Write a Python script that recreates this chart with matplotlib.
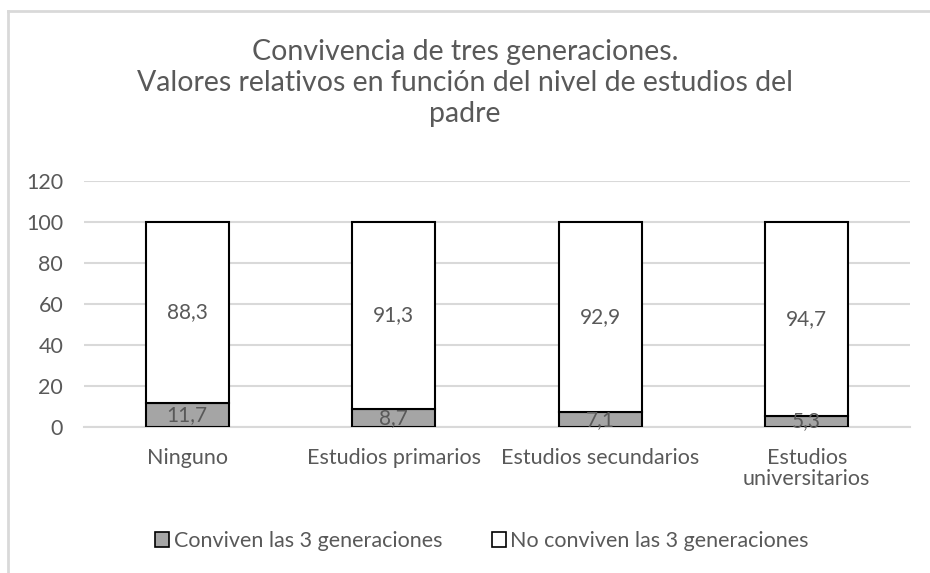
import matplotlib
matplotlib.use("Agg")
import matplotlib.pyplot as plt
from matplotlib.lines import Line2D
import numpy as np

plt.rcParams['font.family'] = ['Lato', 'DejaVu Sans']

# data
categorias = ['Ninguno', 'Estudios primarios', 'Estudios secundarios', 'Estudios\nuniversitarios']
conviven = [11.7, 8.7, 7.1, 5.3]
no_conviven = [88.3, 91.3, 92.9, 94.7]
etiquetas_conviven = ['11,7', '8,7', '7,1', '5,3']
etiquetas_no = ['88,3', '91,3', '92,9', '94,7']
serie_nombres = ['Conviven las 3 generaciones', 'No conviven las 3 generaciones']
yticks = [0, 20, 40, 60, 80, 100, 120]

gris_texto = '#595959'
gris_linea = '#D9D9D9'

fig = plt.figure(figsize=(9.3, 5.73), dpi=100)
W, H = 930, 573
ax = fig.add_axes([84 / W, (H - 427) / H, 826 / W, (427 - 181) / H])

x = np.arange(len(categorias))
b1 = ax.bar(x, conviven, width=0.4, color='#A5A5A5', edgecolor='black', linewidth=1.5, zorder=3)
b2 = ax.bar(x, no_conviven, width=0.4, bottom=conviven, color='white', edgecolor='black', linewidth=1.5, zorder=3)

for rect, lab in zip(b1, etiquetas_conviven):
    ax.text(rect.get_x() + rect.get_width() / 2, rect.get_y() + rect.get_height() / 2, lab,
            ha='center', va='center', fontsize=15, color=gris_texto, zorder=4)
for rect, lab in zip(b2, etiquetas_no):
    ax.text(rect.get_x() + rect.get_width() / 2, rect.get_y() + rect.get_height() / 2, lab,
            ha='center', va='center', fontsize=15, color=gris_texto, zorder=4)

ax.set_xlim(-0.5, len(categorias) - 0.5)
ax.set_ylim(0, 120)
ax.set_yticks(yticks)
ax.set_xticks(x)
ax.set_xticklabels(categorias, linespacing=1.05)
ax.tick_params(axis='both', length=0, labelsize=15.5, labelcolor=gris_texto)
ax.tick_params(axis='y', pad=15)
ax.tick_params(axis='x', pad=15)
ax.yaxis.grid(True, color=gris_linea, linewidth=1.5, zorder=0)
for s in ['top', 'right', 'left']:
    ax.spines[s].set_visible(False)
ax.spines['bottom'].set_color(gris_linea)
ax.spines['bottom'].set_linewidth(1.5)

fig.text(0.5, 1 - 83 / H, 'Convivencia de tres generaciones.\nValores relativos en función del nivel de estudios del\npadre',
         ha='center', va='center', fontsize=20.5, color=gris_texto, linespacing=1.25)

handles = [plt.Rectangle((0, 0), 1, 1, facecolor='#A5A5A5', edgecolor='black', linewidth=1.2),
           plt.Rectangle((0, 0), 1, 1, facecolor='white', edgecolor='black', linewidth=1.2)]
fig.legend(handles, serie_nombres, loc='center', bbox_to_anchor=(482 / W, 1 - 541 / H), ncol=2,
           frameon=False, fontsize=15.5, labelcolor=gris_texto, handlelength=0.65, handleheight=0.65,
           handletextpad=0.2, columnspacing=2.3)

# marco del gráfico
fig.add_artist(Line2D([8 / W, 8 / W], [0, 1 - 10.5 / H], color=gris_linea, linewidth=2))
fig.add_artist(Line2D([8 / W, 1], [1 - 10.5 / H, 1 - 10.5 / H], color=gris_linea, linewidth=2))

fig.savefig('out.png', dpi=100)
